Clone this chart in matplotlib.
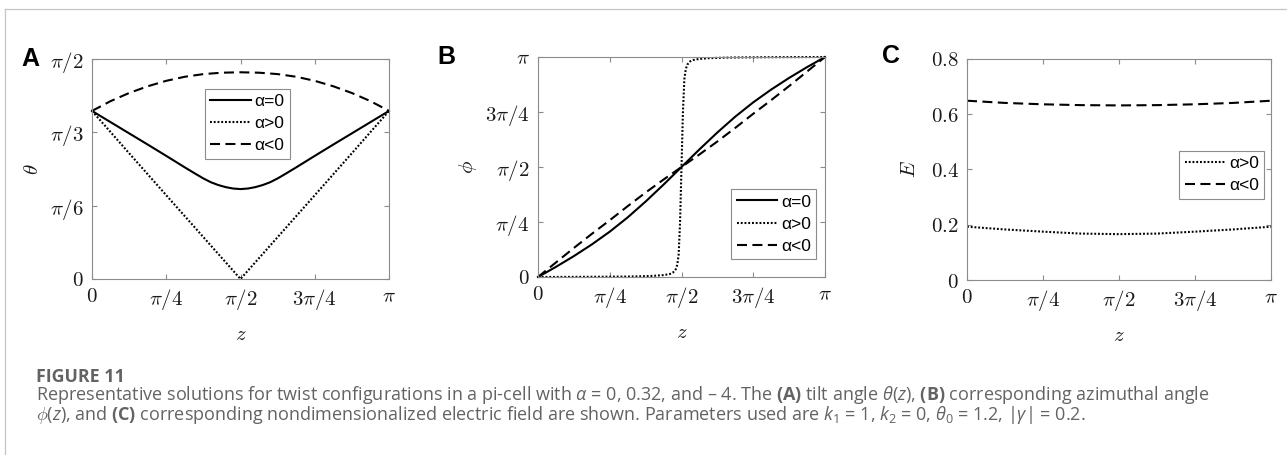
import numpy as np
import matplotlib
matplotlib.use("Agg")
import matplotlib.pyplot as plt
from matplotlib.lines import Line2D

# ── Data (z stored as a fraction of pi) ──────────────────────────────────────
# Panel A: tilt angle theta (rad)
Z_A_ZERO = [0, 0.0625, 0.125, 0.1875, 0.25, 0.3125, 0.35, 0.375, 0.4, 0.425, 0.45, 0.475, 0.5,
            0.525, 0.55, 0.575, 0.6, 0.625, 0.65, 0.6875, 0.75, 0.8125, 0.875, 0.9375, 1]
THETA_ZERO = [1.200, 1.120, 1.040, 0.960, 0.879, 0.797, 0.749, 0.718, 0.691, 0.671, 0.656, 0.646, 0.642,
              0.646, 0.656, 0.671, 0.691, 0.718, 0.749, 0.797, 0.879, 0.960, 1.040, 1.120, 1.200]
Z_A_POS = [0, 0.125, 0.25, 0.375, 0.5, 0.625, 0.75, 0.875, 1]
THETA_POS = [1.200, 0.898, 0.598, 0.299, 0.0, 0.299, 0.598, 0.898, 1.200]
Z_A_NEG = [0, 0.0625, 0.125, 0.1875, 0.25, 0.3125, 0.375, 0.4375, 0.5,
           0.5625, 0.625, 0.6875, 0.75, 0.8125, 0.875, 0.9375, 1]
THETA_NEG = [1.200, 1.270, 1.328, 1.376, 1.415, 1.444, 1.463, 1.473, 1.476,
             1.473, 1.463, 1.444, 1.415, 1.376, 1.328, 1.270, 1.200]

# Panel B: azimuthal angle phi (fraction of pi)
Z_B = [0, 0.0625, 0.125, 0.1875, 0.25, 0.3125, 0.375, 0.4375, 0.5,
       0.5625, 0.625, 0.6875, 0.75, 0.8125, 0.875, 0.9375, 1]
PHI_ZERO = [0, 0.046, 0.095, 0.148, 0.206, 0.271, 0.343, 0.420, 0.500,
            0.580, 0.657, 0.729, 0.794, 0.852, 0.905, 0.954, 1.0]
PHI_NEG = [0, 0.066, 0.132, 0.196, 0.258, 0.322, 0.384, 0.443, 0.500,
           0.557, 0.616, 0.678, 0.742, 0.804, 0.868, 0.934, 1.0]
Z_B_POS = [0, 0.1, 0.2, 0.3, 0.35, 0.4, 0.44, 0.46, 0.47, 0.48, 0.485, 0.49, 0.495, 0.5,
           0.505, 0.51, 0.515, 0.52, 0.53, 0.54, 0.56, 0.6, 0.65, 0.7, 0.8, 0.9, 1]
PHI_POS = [0, 0.0005, 0.001, 0.002, 0.003, 0.005, 0.009, 0.014, 0.02, 0.035, 0.055, 0.1, 0.25, 0.5,
           0.75, 0.9, 0.945, 0.965, 0.98, 0.986, 0.991, 0.995, 0.997, 0.998, 0.999, 0.9995, 1]

# Panel C: nondimensionalized electric field
Z_C = [0, 0.125, 0.25, 0.375, 0.5, 0.625, 0.75, 0.875, 1]
E_POS = [0.193, 0.183, 0.175, 0.168, 0.166, 0.168, 0.175, 0.183, 0.193]
E_NEG = [0.649, 0.641, 0.636, 0.633, 0.632, 0.633, 0.636, 0.641, 0.649]

Z_TICKS = [0, 0.25, 0.5, 0.75, 1]
Z_TICKLABELS = [r"$0$", r"$\pi/4$", r"$\pi/2$", r"$3\pi/4$", r"$\pi$"]
THETA_TICKS = [0, 1 / 6, 1 / 3, 1 / 2]
THETA_TICKLABELS = [r"$0$", r"$\pi/6$", r"$\pi/3$", r"$\pi/2$"]
PHI_TICKS = [0, 0.25, 0.5, 0.75, 1]
PHI_TICKLABELS = [r"$0$", r"$\pi/4$", r"$\pi/2$", r"$3\pi/4$", r"$\pi$"]
E_TICKS = [0, 0.2, 0.4, 0.6, 0.8]
E_TICKLABELS = [r"$0$", r"$0.2$", r"$0.4$", r"$0.6$", r"$0.8$"]

LABELS = {"zero": "α=0", "pos": "α>0", "neg": "α<0"}

# ── Styling ───────────────────────────────────────────────────────────────────
plt.rcParams.update({
    "mathtext.fontset": "cm",
    "mathtext.rm": "Open Sans",
    "mathtext.it": "Open Sans:italic",
    "mathtext.bf": "Open Sans:bold",
    "font.family": ["Liberation Sans", "DejaVu Sans"],
})

SPINE = "#8c8c8c"
TXT = "#1a1a1a"
LW = 1.5
STYLE = {
    "zero": dict(linestyle="-", color="black", lw=LW),
    "pos": dict(linestyle=(0, (0.9, 0.9)), color="black", lw=LW),
    "neg": dict(linestyle=(0, (4.8, 2.6)), color="black", lw=LW),
}

fig = plt.figure(figsize=(12.87, 4.55), dpi=100)
W, H = 1287.0, 455.0


def px_axes(x0, y0, x1, y1):
    return fig.add_axes([x0 / W, 1 - y1 / H, (x1 - x0) / W, (y1 - y0) / H])


def style_axes(ax, ylabel, ylab_x):
    for s in ax.spines.values():
        s.set_color(SPINE)
        s.set_linewidth(0.8)
    ax.tick_params(direction="in", length=3.5, width=0.8, color=SPINE,
                   top=True, right=True, labelsize=15, labelcolor=TXT, pad=6)
    ax.set_xticks([np.pi * t for t in Z_TICKS])
    ax.set_xticklabels(Z_TICKLABELS)
    ax.set_xlim(0, np.pi)
    ax.set_xlabel(r"$z$", fontsize=15, color=TXT, va="center")
    ax.xaxis.set_label_coords(0.5, -0.25)
    ax.set_ylabel(ylabel, fontsize=15, color=TXT, va="center", rotation=90)
    ax.yaxis.set_label_coords(ylab_x, 0.5)


def add_legend(ax, keys, loc, anchor):
    handles = [Line2D([], [], **STYLE[k]) for k in keys]
    leg = ax.legend(handles, [LABELS[k] for k in keys], loc=loc, bbox_to_anchor=anchor,
                    borderaxespad=0, fontsize=12.5, handlelength=2.35, handletextpad=0.2,
                    labelspacing=0.4, borderpad=0.3, fancybox=False, framealpha=1)
    leg.get_frame().set_edgecolor(SPINE)
    leg.get_frame().set_linewidth(0.8)


# ── Panel A ──────────────────────────────────────────────────────────────────
axA = px_axes(92, 59, 389, 279)
axA.plot(np.pi * np.array(Z_A_ZERO), THETA_ZERO, clip_on=False, **STYLE["zero"])
axA.plot(np.pi * np.array(Z_A_POS), THETA_POS, clip_on=False, **STYLE["pos"])
axA.plot(np.pi * np.array(Z_A_NEG), THETA_NEG, clip_on=False, **STYLE["neg"])
axA.set_ylim(0, np.pi / 2)
axA.set_yticks([np.pi * t for t in THETA_TICKS])
axA.set_yticklabels(THETA_TICKLABELS)
style_axes(axA, r"$\theta$", -0.202)
add_legend(axA, ["zero", "pos", "neg"], "upper left", (0.38, 0.864))

# ── Panel B ──────────────────────────────────────────────────────────────────
axB = px_axes(538, 57, 825, 277)
axB.plot(np.pi * np.array(Z_B), np.pi * np.array(PHI_ZERO), clip_on=False, **STYLE["zero"])
axB.plot(np.pi * np.array(Z_B_POS), np.pi * np.array(PHI_POS), clip_on=False, **STYLE["pos"])
axB.plot(np.pi * np.array(Z_B), np.pi * np.array(PHI_NEG), clip_on=False, **STYLE["neg"])
axB.set_ylim(0, np.pi)
axB.set_yticks([np.pi * t for t in PHI_TICKS])
axB.set_yticklabels(PHI_TICKLABELS)
style_axes(axB, r"$\phi$", -0.244)
add_legend(axB, ["zero", "pos", "neg"], "lower right", (0.969, 0.082))

# ── Panel C ──────────────────────────────────────────────────────────────────
axC = px_axes(967, 59, 1271, 280)
axC.plot(np.pi * np.array(Z_C), E_POS, clip_on=False, **STYLE["pos"])
axC.plot(np.pi * np.array(Z_C), E_NEG, clip_on=False, **STYLE["neg"])
axC.set_ylim(0, 0.8)
axC.set_yticks(E_TICKS)
axC.set_yticklabels(E_TICKLABELS)
style_axes(axC, r"$E$", -0.1875)
add_legend(axC, ["pos", "neg"], "upper right", (0.977, 0.584))

# ── Panel letters ────────────────────────────────────────────────────────────
for letter, x, y in [("A", 21, 59), ("B", 437, 57), ("C", 882, 56)]:
    fig.text(x / W, 1 - y / H, letter, fontsize=18, fontweight="bold",
             ha="left", va="center", color="black")

# ── Page frame ───────────────────────────────────────────────────────────────
FRAME = "#c4c4c4"
fig.add_artist(Line2D([4.7 / W, 1], [1 - 9.3 / H, 1 - 9.3 / H], color=FRAME, lw=0.9,
                      transform=fig.transFigure))
fig.add_artist(Line2D([4.7 / W, 4.7 / W], [0, 1 - 9.3 / H], color=FRAME, lw=0.9,
                      transform=fig.transFigure))

# ── Caption ──────────────────────────────────────────────────────────────────
CAP = "#636363"
CAP_X = 36 / W
fig.text(CAP_X, 1 - 382 / H, "FIGURE 11", fontsize=12.8, fontweight="bold",
         family="Open Sans", color=CAP, va="baseline")
line1 = (r"Representative solutions for twist configurations in a pi-cell with $\alpha$ = 0, 0.32, "
         r"and – 4. The $\mathbf{(A)}$ tilt angle $\theta(z)$, $\mathbf{(B)}$ corresponding azimuthal angle")
line2 = (r"$\phi(z)$, and $\mathbf{(C)}$ corresponding nondimensionalized electric field are shown. "
         r"Parameters used are $k_1$ = 1, $k_2$ = 0, $\theta_0$ = 1.2, $|\gamma|$ = 0.2.")
for txt, yb in [(line1, 400), (line2, 420)]:
    fig.text(CAP_X, 1 - yb / H, txt, fontsize=13, family="Open Sans", color=CAP,
             va="baseline", math_fontfamily="custom")

fig.savefig("out.png", dpi=100)
